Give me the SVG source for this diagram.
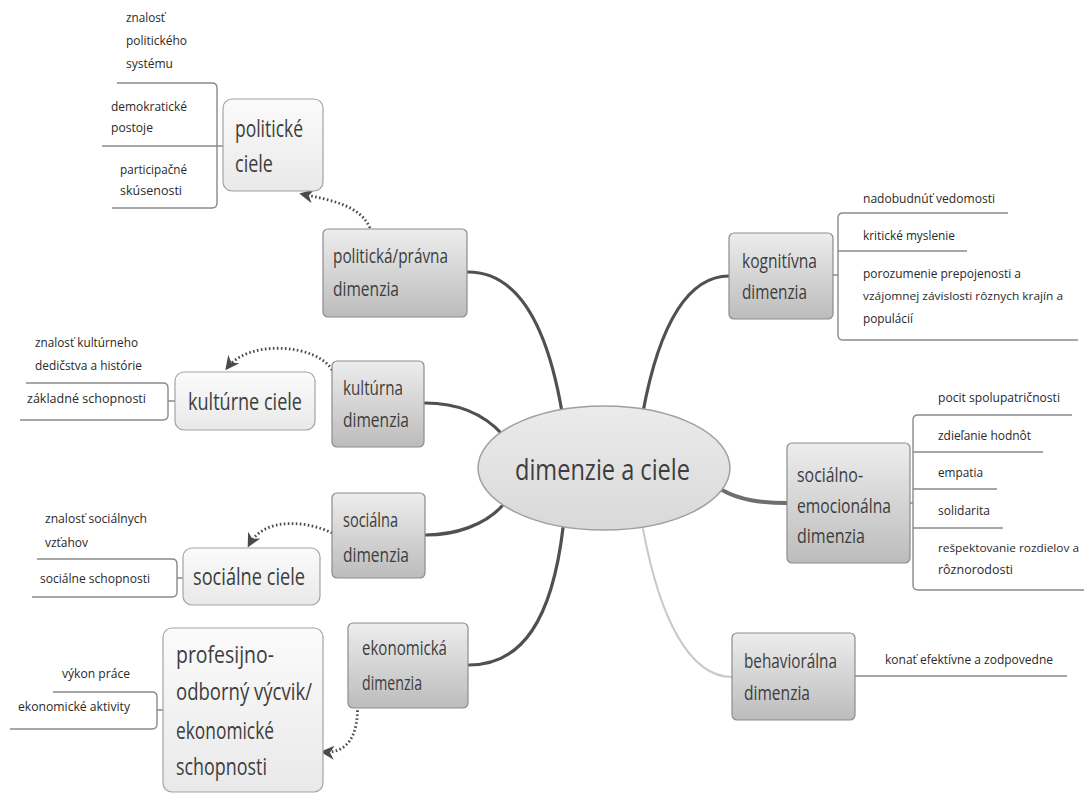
<svg xmlns="http://www.w3.org/2000/svg" width="1084" height="795" viewBox="0 0 1084 795">
<style>
text{font-family:"Open Sans","Liberation Sans",sans-serif;fill:#3d3d3d}
.leaf{font-size:13.5px;fill:#2a2a2a}
.sm{font-size:11.5px}
.dim{font-size:20px}
.goal{font-size:24px}
.center{font-size:30px}
.dbox{fill:url(#gDim);stroke:#8c8c8c;stroke-width:1.2}
.gbox{fill:url(#gGoal);stroke:#a3a3a3;stroke-width:1.2}
.ln{fill:none;stroke:#8a8a8a;stroke-width:1.4}
.main{fill:none;stroke:#505050;stroke-width:3.2;stroke-linecap:round}
.dot{fill:none;stroke:#4a4a4a;stroke-width:2.8;stroke-dasharray:1.6 2.4;marker-end:url(#arr)}
</style>
<defs>
<linearGradient id="gDim" x1="0" y1="0" x2="0" y2="1"><stop offset="0" stop-color="#ededed"/><stop offset="1" stop-color="#bcbcbc"/></linearGradient>
<linearGradient id="gGoal" x1="0" y1="0" x2="0" y2="1"><stop offset="0" stop-color="#fbfbfb"/><stop offset="1" stop-color="#e9e9e9"/></linearGradient>
<linearGradient id="gC" x1="0" y1="0" x2="0" y2="1"><stop offset="0" stop-color="#ebebeb"/><stop offset="1" stop-color="#d9d9d9"/></linearGradient>
<marker id="arr" viewBox="0 0 10 10" refX="8" refY="5" markerWidth="5" markerHeight="5" orient="auto" markerUnits="strokeWidth"><path d="M0,0 L10,5 L0,10 L3,5 z" fill="#4a4a4a"/></marker>
</defs>
<rect width="1084" height="795" fill="#fff"/>

<g id="connectors">
<path class="main" d="M562,412 C548,330 520,272 468,272"/>
<path class="main" d="M643,412 C660,320 690,276 729,276"/>
<path class="main" d="M502,434 C480,410 452,403 425,403"/>
<path class="main" d="M502,506 C485,525 455,535 426,535"/>
<path class="main" d="M722,490 C740,500 760,503 787,503" style="stroke:#6e6e6e;stroke-width:4"/>
<path class="main" d="M563,528 C552,620 522,665 469,665"/>
<path class="main" d="M643,529 C660,620 690,677 732,677" style="stroke:#c9c9c9;stroke-width:2"/>
<path class="dot" d="M370,228 C360,205 330,200 302,194"/>
<path class="dot" d="M332,370 C318,345 250,338 227,368"/>
<path class="dot" d="M332,533 C310,522 265,515 249,545"/>
<path class="dot" d="M349,655 C362,700 365,755 323,752"/>
<path class="ln" d="M117,83 H212 Q217,83 217,88 V203 Q217,208 212,208 H112 M102,146 H223"/>
<path class="ln" d="M26,383 H163 Q168,383 168,388 V415 Q168,420 163,420 H20 M168,401 H175"/>
<path class="ln" d="M37,559 H172 Q177,559 177,564 V592 Q177,597 172,597 H32 M177,578 H183"/>
<path class="ln" d="M53,692 H152 Q157,692 157,697 V724 Q157,729 152,729 H10 M157,710 H163"/>
<path class="ln" d="M1008,213 H843 Q838,213 838,218 V335 Q838,340 843,340 H1078 M838,251 H967 M833,275 H838"/>
<path class="ln" d="M1072,415 H918 Q913,415 913,420 V585 Q913,590 918,590 H1084 M913,452 H1043 M913,489 H997 M913,528 H1003 M910,503 H913"/>
<path class="ln" d="M855,676 H1067"/>
</g>

<g id="center">
<ellipse cx="604" cy="468" rx="126" ry="62" fill="url(#gC)" stroke="#a0a0a0" stroke-width="1.5"/>
<text class="center" x="515" y="480" textLength="175" lengthAdjust="spacingAndGlyphs">dimenzie a ciele</text>
</g>

<g id="politicka-dimenzia">
<rect class="dbox" x="323" y="229" width="144" height="88" rx="5"/>
<text class="dim" x="333" y="263" textLength="115" lengthAdjust="spacingAndGlyphs">politická/právna</text>
<text class="dim" x="333" y="296" textLength="66" lengthAdjust="spacingAndGlyphs">dimenzia</text>
</g>
<g id="kulturna-dimenzia">
<rect class="dbox" x="332" y="361" width="92" height="86" rx="5"/>
<text class="dim" x="343" y="395" textLength="60" lengthAdjust="spacingAndGlyphs">kultúrna</text>
<text class="dim" x="343" y="427" textLength="66" lengthAdjust="spacingAndGlyphs">dimenzia</text>
</g>
<g id="socialna-dimenzia">
<rect class="dbox" x="332" y="493" width="93" height="85" rx="5"/>
<text class="dim" x="343" y="527" textLength="55" lengthAdjust="spacingAndGlyphs">sociálna</text>
<text class="dim" x="343" y="562" textLength="66" lengthAdjust="spacingAndGlyphs">dimenzia</text>
</g>
<g id="ekonomicka-dimenzia">
<rect class="dbox" x="348" y="623" width="120" height="85" rx="5"/>
<text class="dim" x="362" y="655" textLength="85" lengthAdjust="spacingAndGlyphs">ekonomická</text>
<text class="dim" x="362" y="690" textLength="60" lengthAdjust="spacingAndGlyphs">dimenzia</text>
</g>
<g id="kognitivna-dimenzia">
<rect class="dbox" x="729" y="233" width="104" height="86" rx="5"/>
<text class="dim" x="742" y="268" textLength="75" lengthAdjust="spacingAndGlyphs">kognitívna</text>
<text class="dim" x="742" y="299" textLength="65" lengthAdjust="spacingAndGlyphs">dimenzia</text>
</g>
<g id="socialno-emocionalna-dimenzia">
<rect class="dbox" x="787" y="443" width="123" height="120" rx="5"/>
<text class="dim" x="797" y="482" textLength="66" lengthAdjust="spacingAndGlyphs">sociálno-</text>
<text class="dim" x="797" y="513" textLength="94" lengthAdjust="spacingAndGlyphs">emocionálna</text>
<text class="dim" x="797" y="543" textLength="68" lengthAdjust="spacingAndGlyphs">dimenzia</text>
</g>
<g id="behavioralna-dimenzia">
<rect class="dbox" x="732" y="633" width="123" height="87" rx="5"/>
<text class="dim" x="744" y="668" textLength="93" lengthAdjust="spacingAndGlyphs">behaviorálna</text>
<text class="dim" x="744" y="700" textLength="66" lengthAdjust="spacingAndGlyphs">dimenzia</text>
</g>

<g id="politicke-ciele">
<rect class="gbox" x="223" y="99" width="100" height="92" rx="9"/>
<text class="goal" x="235" y="137" textLength="68" lengthAdjust="spacingAndGlyphs">politické</text>
<text class="goal" x="235" y="172" textLength="38" lengthAdjust="spacingAndGlyphs">ciele</text>
</g>
<g id="kulturne-ciele">
<rect class="gbox" x="175" y="372" width="140" height="58" rx="9"/>
<text class="goal" x="188" y="410" textLength="114" lengthAdjust="spacingAndGlyphs">kultúrne ciele</text>
</g>
<g id="socialne-ciele">
<rect class="gbox" x="183" y="548" width="137" height="57" rx="9"/>
<text class="goal" x="193" y="585" textLength="112" lengthAdjust="spacingAndGlyphs">sociálne ciele</text>
</g>
<g id="profesijno-ciele">
<rect class="gbox" x="163" y="628" width="160" height="164" rx="9"/>
<text class="goal" x="176" y="663" textLength="98" lengthAdjust="spacingAndGlyphs">profesijno-</text>
<text class="goal" x="176" y="700" textLength="136" lengthAdjust="spacingAndGlyphs">odborný výcvik/</text>
<text class="goal" x="176" y="739" textLength="98" lengthAdjust="spacingAndGlyphs">ekonomické</text>
<text class="goal" x="176" y="775" textLength="91" lengthAdjust="spacingAndGlyphs">schopnosti</text>
</g>

<g id="leaves-politicke">
<text class="leaf" x="126" y="22" textLength="39" lengthAdjust="spacingAndGlyphs">znalosť</text>
<text class="leaf" x="126" y="45" textLength="61" lengthAdjust="spacingAndGlyphs">politického</text>
<text class="leaf" x="126" y="68" textLength="47" lengthAdjust="spacingAndGlyphs">systému</text>
<text class="leaf" x="111" y="111" textLength="76" lengthAdjust="spacingAndGlyphs">demokratické</text>
<text class="leaf" x="111" y="132" textLength="42" lengthAdjust="spacingAndGlyphs">postoje</text>
<text class="leaf" x="120" y="174" textLength="67" lengthAdjust="spacingAndGlyphs">participačné</text>
<text class="leaf" x="120" y="195" textLength="62" lengthAdjust="spacingAndGlyphs">skúsenosti</text>
</g>
<g id="leaves-kulturne">
<text class="leaf" x="35" y="347" textLength="103" lengthAdjust="spacingAndGlyphs">znalosť kultúrneho</text>
<text class="leaf" x="35" y="370" textLength="107" lengthAdjust="spacingAndGlyphs">dedičstva a histórie</text>
<text class="leaf" x="27" y="403" textLength="119" lengthAdjust="spacingAndGlyphs">základné schopnosti</text>
</g>
<g id="leaves-socialne">
<text class="leaf" x="45" y="523" textLength="102" lengthAdjust="spacingAndGlyphs">znalosť sociálnych</text>
<text class="leaf" x="45" y="547" textLength="43" lengthAdjust="spacingAndGlyphs">vzťahov</text>
<text class="leaf" x="40" y="583" textLength="110" lengthAdjust="spacingAndGlyphs">sociálne schopnosti</text>
</g>
<g id="leaves-profesijno">
<text class="leaf" x="62" y="678" textLength="68" lengthAdjust="spacingAndGlyphs">výkon práce</text>
<text class="leaf" x="18" y="711" textLength="112" lengthAdjust="spacingAndGlyphs">ekonomické aktivity</text>
</g>
<g id="leaves-kognitivna">
<text class="leaf" x="863" y="203" textLength="132" lengthAdjust="spacingAndGlyphs">nadobudnúť vedomosti</text>
<text class="leaf" x="863" y="240" textLength="92" lengthAdjust="spacingAndGlyphs">kritické myslenie</text>
<text class="leaf" x="863" y="278" textLength="158" lengthAdjust="spacingAndGlyphs">porozumenie prepojenosti a</text>
<text class="leaf sm" x="863" y="300" textLength="200" lengthAdjust="spacingAndGlyphs">vzájomnej závislosti rôznych krajín a</text>
<text class="leaf" x="863" y="323" textLength="50" lengthAdjust="spacingAndGlyphs">populácií</text>
</g>
<g id="leaves-socialno-emocionalna">
<text class="leaf" x="938" y="402" textLength="122" lengthAdjust="spacingAndGlyphs">pocit spolupatričnosti</text>
<text class="leaf" x="938" y="440" textLength="93" lengthAdjust="spacingAndGlyphs">zdieľanie hodnôt</text>
<text class="leaf" x="938" y="477" textLength="45" lengthAdjust="spacingAndGlyphs">empatia</text>
<text class="leaf" x="938" y="515" textLength="52" lengthAdjust="spacingAndGlyphs">solidarita</text>
<text class="leaf sm" x="938" y="552" textLength="141" lengthAdjust="spacingAndGlyphs">rešpektovanie rozdielov a</text>
<text class="leaf" x="938" y="574" textLength="75" lengthAdjust="spacingAndGlyphs">rôznorodosti</text>
</g>
<g id="leaves-behavioralna">
<text class="leaf" x="885" y="664" textLength="168" lengthAdjust="spacingAndGlyphs">konať efektívne a zodpovedne</text>
</g>
</svg>
